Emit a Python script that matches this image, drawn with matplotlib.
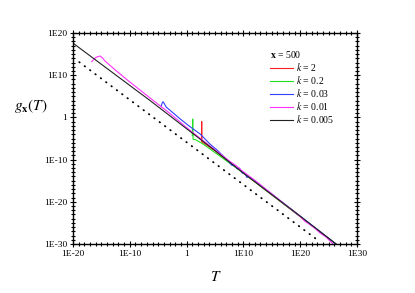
import numpy as np
import matplotlib
matplotlib.use("Agg")
import matplotlib.pyplot as plt
from matplotlib.ticker import FixedLocator, FuncFormatter

# data, as log10 values
black_logT = [-20.0, -6.44, 4.65, 10.0, 20.0, 26.3]
black_logg = [17.6, 4.0, -7.5, -13.2, -23.4, -30.0]

dot_logT = [-18.9, 23.3]
dot_logg = [13.1, -29.3]

mag_logT = [-16.7, -16.0, -15.25, -14.8, -14.4, -12.0, -10.0, -6.44, -3.0, 0.0, 3.0, 8.0, 8.8, 9.6,
            12.0, 20.0, 20.8, 21.6, 22.6, 23.5, 24.5, 25.8]
mag_logg = [13.2, 14.2, 14.55, 14.1, 13.4, 10.6, 8.4, 4.6, 1.0, -2.4, -5.6, -10.8, -11.5, -12.5,
            -14.9, -23.5, -24.6, -25.3, -26.3, -27.4, -28.3, -30.0]

blue_logT = [-4.5, -4.3, -4.15, -3.9, -3.6, -1.16, 0.5, 2.36, 4.1, 5.5, 7.5, 8.0, 8.4, 8.9, 9.3, 9.8,
             10.2, 10.6, 11.0, 11.6, 20.0, 26.3]
blue_logg = [2.54, 3.4, 3.72, 3.2, 2.46, -0.33, -2.1, -3.9, -6.3, -7.9, -10.6, -11.4, -11.3, -12.2,
             -12.0, -13.2, -13.1, -14.2, -14.1, -14.6, -23.4, -30.0]

green_logT = [1.0, 1.08, 1.15, 1.6, 3.0, 10.0, 26.3]
green_logg = [-4.3, -0.4, -5.2, -5.3, -6.4, -13.2, -30.0]

red_logT = [2.62, 2.66, 2.70, 5.0, 10.0, 26.3]
red_logg = [-5.6, -1.0, -5.8, -7.9, -13.2, -30.0]

x_ticks = [-20, -10, 0, 10, 20, 30]
y_ticks = [-30, -20, -10, 0, 10, 20]

plt.rcParams['font.family'] = ['Liberation Serif', 'DejaVu Serif']
plt.rcParams['mathtext.fontset'] = 'stix'

fig = plt.figure(figsize=(4.15, 2.93), dpi=100)
ax = fig.add_axes([73 / 415, 49 / 293, 284 / 415, 211 / 293])

p = lambda v: 10.0 ** np.array(v)

ax.plot(p(dot_logT), p(dot_logg), color='black', lw=1.3, ls=(0, (0.3, 3.4)),
        dash_capstyle='round')
ax.plot(p(red_logT), p(red_logg), color='#ff2020', lw=0.8, label='$k$ = 2')
ax.plot(p(green_logT), p(green_logg), color='#20e020', lw=0.8, label='$k$ = 0.2')
ax.plot(p(blue_logT), p(blue_logg), color='#3040ff', lw=0.8, label='$k$ = 0.03')
ax.plot(p(mag_logT), p(mag_logg), color='#ff30ff', lw=0.8, label='$k$ = 0.01')
ax.plot(p(black_logT), p(black_logg), color='#222222', lw=0.8, label='$k$ = 0.005')

ax.set_xscale('log')
ax.set_yscale('log')
ax.set_xlim(1e-20, 1e30)
ax.set_ylim(1e-30, 1e20)

def fmt(v, pos):
    e = int(round(np.log10(v)))
    return '1' if e == 0 else '1E%d' % e

for axis, t in ((ax.xaxis, x_ticks), (ax.yaxis, y_ticks)):
    axis.set_major_locator(FixedLocator(p(t)))
    axis.set_minor_locator(FixedLocator(p(np.arange(t[0], t[-1] + 1))))
    axis.set_major_formatter(FuncFormatter(fmt))
    axis.set_minor_formatter(FuncFormatter(lambda v, pos: ''))

ax.tick_params(which='both', direction='inout', top=True, right=True, labelsize=6.8,
               width=0.8, pad=2)
ax.tick_params(which='major', length=4.5)
ax.tick_params(which='minor', length=2.5)
for s in ax.spines.values():
    s.set_linewidth(1.0)

ax.set_xlabel('$T$', fontsize=11)
ax.xaxis.set_label_coords(0.503, -0.125)
ax.set_ylabel(r'$g_{\mathbf{x}}(T)$', fontsize=11, rotation=0)
ax.yaxis.set_label_coords(-0.15, 0.61)

leg = ax.legend(title=r'$\mathbf{x}$ = 500', loc='upper left', bbox_to_anchor=(0.671, 0.955),
                frameon=False, fontsize=7, title_fontsize=7, handlelength=2.3,
                handletextpad=0.3, labelspacing=0.1, borderpad=0.2, alignment='left')

plt.savefig('out.png', dpi=100)
